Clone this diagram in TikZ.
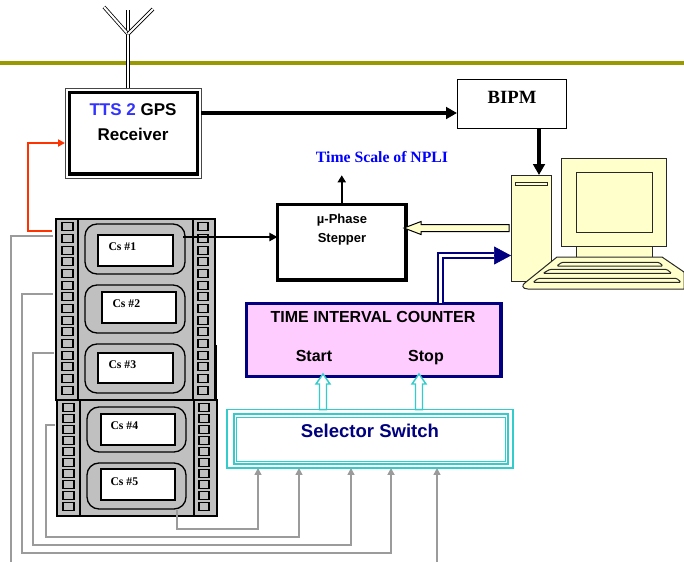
\documentclass[tikz,border=0pt]{standalone}
\usepackage{fontspec}
\setmainfont{Liberation Serif}
\setsansfont{Liberation Sans}
\usetikzlibrary{arrows.meta,calc}

\tikzset{every picture/.style={line width=0.75pt}}
\tikzset{
  blockbox/.style={draw, inner sep=0pt, outer sep=0pt},
  rackpart/.style={draw, fill={rgb, 255:red, 192; green, 192; blue, 192}, line width=1.1pt},
  rackslot/.style={draw, fill={rgb, 255:red, 192; green, 192; blue, 192}, line width=0.8pt},
  csunit/.style={blockbox, fill={rgb, 255:red, 192; green, 192; blue, 192}, rounded corners=9pt, line width=1pt},
  cswindow/.style={blockbox, fill=white, line width=1pt},
  cslabel/.style={font=\rmfamily\bfseries\fontsize{8.8}{10}\selectfont, inner sep=0pt, anchor=base west},
  pcpart/.style={draw={rgb, 255:red, 40; green, 40; blue, 40}, fill={rgb, 255:red, 255; green, 255; blue, 204}},
  feedline/.style={draw={rgb, 255:red, 155; green, 155; blue, 155}, line width=1.1pt},
  feedin/.style={feedline, -{Triangle[length=5.25pt,width=5.25pt]}},
  bigarrow/.style={line width=2.8pt, -{Triangle[length=8.25pt,width=8.75pt]}},
  hollowup/.style={draw={rgb, 255:red, 51; green, 204; blue, 204}, fill=white, line width=1.1pt},
  switchline/.style={draw={rgb, 255:red, 51; green, 204; blue, 204}},
  antenna/.style={double, double distance=1.5pt, line width=0.6pt},
}

\begin{document}
\begin{tikzpicture}[x=0.75pt,y=0.75pt,yscale=-1,xscale=1]
\useasboundingbox (0,0) rectangle (684,562);

%Straight Lines
\draw [draw={rgb, 255:red, 153; green, 153; blue, 0}, line width=2.4pt] (0,63) -- (684,63);

%Shape: Rectangle
\node [blockbox, draw={rgb, 255:red, 70; green, 70; blue, 70}, minimum width=102pt, minimum height=67.5pt] (gps) at (133,133) {};
\draw [line width=2.6pt] ($(gps.north west)+(4.5,4.5)$) rectangle ($(gps.south east)+(-3.5,-4)$);
%Shape: Rectangle
\node [blockbox, minimum width=81.75pt, minimum height=36.75pt] (bipm) at (511.5,103.5) {};
%Shape: Rectangle
\node [blockbox, line width=2.5pt, minimum width=96.4pt, minimum height=56.8pt] (stepper) at (341.75,242.15) {};
%Shape: Rectangle
\node [blockbox, draw={rgb, 255:red, 0; green, 0; blue, 128}, fill={rgb, 255:red, 255; green, 204; blue, 255}, line width=2.5pt, minimum width=190.7pt, minimum height=55pt] (tic) at (373.85,340) {};
%Shape: Rectangle
\node [blockbox, switchline, line width=1.1pt, minimum width=214.5pt, minimum height=43.7pt] (selector) at (370,438.85) {};
\draw [switchline, line width=1.5pt] ($(selector.north west)+(6.5,4.3)$) rectangle ($(selector.south east)+(-5,-4.4)$);
\draw [switchline] ($(selector.north west)+(9,7.3)$) rectangle ($(selector.south east)+(-7.3,-6.8)$);

%Antenna
\coordinate (mast) at (128,34);
\draw [antenna] (mast |- gps.north) -- (128,10);
\draw [antenna] (mast) -- (104,7);
\draw [antenna] (mast) -- (153,9);

%Cs rack
\draw [rackpart] (56,219) rectangle (215,400);
\draw [rackpart] (57,400) rectangle (217,516);
\draw [line width=1.1pt] (78,219) -- (78,400) (193,219) -- (193,400);
\draw [line width=1.1pt] (80,400) -- (80,516) (194,400) -- (194,516);
\draw [line width=1.5pt] (216,345) -- (216,400);
\foreach \k in {0,...,14} {
  \draw [rackslot] (62,222.7+11.67*\k) rectangle ++(11,8);
  \draw [rackslot] (198,222.7+11.67*\k) rectangle ++(10,8);
}
\foreach \k in {0,...,9} {
  \draw [rackslot] (63,403.3+11*\k) rectangle ++(11,8);
  \draw [rackslot] (199,403.3+11*\k) rectangle ++(10,8);
}
\node [csunit, minimum width=75pt, minimum height=37.5pt] (csunit1) at (135,249) {};
\node [cswindow, minimum width=56.25pt, minimum height=23.25pt] (cswin1) at (135.5,250.5) {};
\node [csunit, minimum width=75pt, minimum height=36pt] (csunit2) at (135,309) {};
\node [cswindow, minimum width=55.5pt, minimum height=23.25pt] (cswin2) at (139,307.5) {};
\node [csunit, minimum width=75pt, minimum height=36.75pt] (csunit3) at (135,368.5) {};
\node [cswindow, minimum width=56.25pt, minimum height=22.5pt] (cswin3) at (135.5,368) {};
\node [csunit, minimum width=74.25pt, minimum height=33.75pt] (csunit4) at (136.5,429.5) {};
\node [cswindow, minimum width=55.5pt, minimum height=23.25pt] (cswin4) at (138,429.5) {};
\node [csunit, minimum width=74.25pt, minimum height=34.5pt] (csunit5) at (136.5,486) {};
\node [cswindow, minimum width=55.5pt, minimum height=23.25pt] (cswin5) at (138,484.5) {};

%Computer
\node [blockbox, pcpart, minimum width=30pt, minimum height=79.5pt] (tower) at (531,228) {};
\draw [pcpart] (515,182.7) rectangle (547,185.3);
\draw [pcpart] (561,158) rectangle (666,246);
\draw [pcpart] (576,172.5) rectangle (652,232);
\draw [pcpart] (576,246) rectangle (652,258);
\draw [pcpart] (557,257) -- (662,257) -- (684,272) -- (684,289) -- (528,289) .. controls (522,289) and (521,285) .. (526,282) -- cycle;
\draw [pcpart, rounded corners=1pt] (561.7,262.3) -- (659,262.3) -- (663,266) -- (556.7,266) -- cycle;
\draw [pcpart, rounded corners=1pt] (550,269.3) -- (666.7,269.3) -- (671.7,273.3) -- (543,273.3) -- cycle;
\draw [pcpart, rounded corners=1pt] (538.3,278.3) -- (676.7,278.3) -- (681,282.3) -- (533,282.3) -- cycle;

%Straight Lines
\coordinate (redtap) at (52,231);
\draw [draw={rgb, 255:red, 255; green, 51; blue, 0}, line width=1.5pt, -{Triangle[length=5.25pt,width=5.25pt]}] (redtap) -- ++(-24,0) |- ($(gps.west)+(0,10)$);
\coordinate (gpsout) at ($(gps.east)+(0,-20)$);
\draw [bigarrow] (gpsout) -- (gpsout -| bipm.west);
\coordinate (bipmout) at ($(bipm.south)+(27.5,0)$);
\draw [bigarrow] (bipmout) -- (bipmout |- tower.north);
\coordinate (cs1out) at (183,237);
\draw [line width=1.9pt, -{Triangle[length=6pt,width=6pt]}] (cs1out) -- (cs1out -| stepper.west);
\coordinate (npliout) at ($(stepper.north)+(0,-29)$);
\draw [line width=1.5pt, -{Triangle[length=5.25pt,width=6pt]}] (stepper.north) -- (npliout);

%Block arrows
\coordinate (pctip) at (404,228);
\draw [pcpart, draw=black] (pctip) -- ++(17,-6.5) -- ++(0,3) -- ($(pctip -| tower.west)+(-2,-3.5)$) -- ++(0,7) -- ($(pctip)+(17,3.5)$) -- ++(0,3) -- cycle;
\coordinate (starttip) at (323,374);
\draw [hollowup] (starttip) -- ++(7,10) -- ++(-3.5,0) -- ($(starttip |- selector.north)+(3.5,0)$) -- ++(-7,0) -- ($(starttip)+(-3.5,10)$) -- ++(-3.5,0) -- cycle;
\coordinate (stoptip) at (419,374);
\draw [hollowup] (stoptip) -- ++(7,10) -- ++(-3.5,0) -- ($(stoptip |- selector.north)+(3.5,0)$) -- ++(-7,0) -- ($(stoptip)+(-3.5,10)$) -- ++(-3.5,0) -- cycle;
\coordinate (qcorner) at (440.5,255.5);
\coordinate (qbase) at (494,255.5);
\draw [draw={rgb, 255:red, 0; green, 0; blue, 128}, double=white, double distance=2.4pt, line width=1.3pt] (qcorner |- tic.north) -- (qcorner) -- (qbase);
\draw [draw={rgb, 255:red, 0; green, 0; blue, 128}, line width=0.5pt, -{Triangle[length=12.75pt,width=13.5pt]}] (qbase) -- (qbase -| tower.west);

%Feed lines
\coordinate (in1) at ($(selector.south)+(-112,0)$);
\coordinate (in2) at ($(selector.south)+(-71,0)$);
\coordinate (in3) at ($(selector.south)+(-19,0)$);
\coordinate (in4) at ($(selector.south)+(21,0)$);
\coordinate (in5) at ($(selector.south)+(67,0)$);
\coordinate (tap1) at (177,510);
\coordinate (tap2) at (55,425);
\coordinate (tap3) at (54,353);
\coordinate (tap4) at (53,294);
\coordinate (tap5) at (53,236);
\coordinate (corner1) at (258,529);
\coordinate (corner2) at (46,537);
\coordinate (corner3) at (33,545);
\coordinate (corner4) at (22,553);
\coordinate (corner5) at (11,562);
\draw [feedin] (tap1) |- (corner1) -- (in1);
\draw [feedin] (tap2) -| (corner2) -| (in2);
\draw [feedin] (tap3) -| (corner3) -| (in3);
\draw [feedin, line width=1.9pt] (tap4) -| (corner4) -| (in4);
\draw [feedline] (tap5) -| (corner5);
\draw [feedin] (in5 |- corner5) -- (in5);

% Text Node
\node [font=\sffamily\bfseries\fontsize{12.75}{18.75}\selectfont, align=center, inner sep=0pt] (gpslabel) at (133,122.5) {{\color[RGB]{51,51,255}TTS 2} GPS\\Receiver};
% Text Node
\node [font=\rmfamily\bfseries\fontsize{14}{16}\selectfont, inner sep=0pt, anchor=base] (bipmlabel) at (512,103.2) {BIPM};
% Text Node
\node [font=\rmfamily\bfseries\fontsize{11.8}{14}\selectfont, text={rgb, 255:red, 0; green, 0; blue, 255}, inner sep=0pt, anchor=base] (nplilabel) at (382,162.2) {Time Scale of NPLI};
% Text Node
\node [font=\sffamily\bfseries\fontsize{9.75}{14.25}\selectfont, align=center, inner sep=0pt] (stepperlabel) at (342,229.7) {µ-Phase\\Stepper};
% Text Node
\node [font=\sffamily\bfseries\fontsize{12}{14}\selectfont, inner sep=0pt, anchor=base] (ticlabel) at (373,322.7) {TIME INTERVAL COUNTER};
% Text Node
\node [font=\sffamily\bfseries\fontsize{12}{14}\selectfont, inner sep=0pt, anchor=base] (startlabel) at (314,361.7) {Start};
% Text Node
\node [font=\sffamily\bfseries\fontsize{12}{14}\selectfont, inner sep=0pt, anchor=base] (stoplabel) at (426,361.7) {Stop};
% Text Node
\node [font=\sffamily\bfseries\fontsize{13.9}{16}\selectfont, text={rgb, 255:red, 0; green, 0; blue, 128}, inner sep=0pt, anchor=base] (selectorlabel) at (370,437.6) {Selector Switch};
% Text Node
\node [cslabel] (cslabel1) at (108,250.9) {Cs \#1};
\node [cslabel] (cslabel2) at (112,307.9) {Cs \#2};
\node [cslabel] (cslabel3) at (108,368.9) {Cs \#3};
\node [cslabel] (cslabel4) at (110,429.9) {Cs \#4};
\node [cslabel] (cslabel5) at (110,485.9) {Cs \#5};

\end{tikzpicture}
\end{document}
